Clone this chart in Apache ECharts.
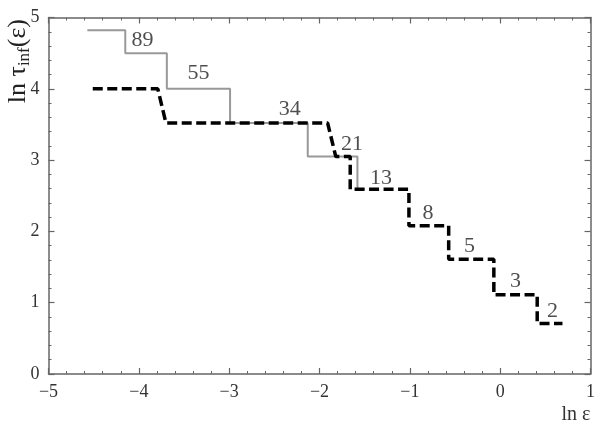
<!DOCTYPE html>
<html>
<head>
<meta charset="utf-8">
<script src="https://cdn.jsdelivr.net/npm/echarts@6/dist/echarts.min.js"></script>
<style>
html,body{margin:0;padding:0;background:#fff;}
#c{width:598px;height:425px;}
</style>
</head>
<body>
<div id="c"></div>
<script>
// Gray solid step line: breakpoints (x) and levels (y)
const grayStart = -4.57;
const grayBreaks = [-4.15, -3.69, -2.99, -2.13, -1.58];
const grayLevels = [4.82, 4.50, 4.00, 3.52, 3.05, 2.59];
const grayEnd = -1.50;

// Black dashed line: vertices (x, y)
const dashX = [-4.51, -3.79, -3.70, -1.91, -1.82, -1.66, -1.66, -1.01, -1.01, -0.57, -0.57, -0.07, -0.07, 0.41, 0.41, 0.69];
const dashY = [4.00, 4.00, 3.52, 3.52, 3.05, 3.05, 2.59, 2.59, 2.08, 2.08, 1.61, 1.61, 1.11, 1.11, 0.71, 0.71];

// Step labels
const labelText = ['89', '55', '34', '21', '13', '8', '5', '3', '2'];
const labelX = [-3.96, -3.34, -2.33, -1.64, -1.32, -0.80, -0.34, 0.17, 0.58];
const labelY = [4.68, 4.22, 3.71, 3.22, 2.75, 2.25, 1.79, 1.30, 0.88];

// Axis ticks
const xMin = -5, xMax = 1, yMin = 0, yMax = 5;

const grayData = [[grayStart, grayLevels[0]]];
grayBreaks.forEach((b, i) => {
  grayData.push([b, grayLevels[i]]);
  grayData.push([b, grayLevels[i + 1]]);
});
grayData.push([grayEnd, grayLevels[grayLevels.length - 1]]);

const dashData = dashX.map((x, i) => [x, dashY[i]]);
const labelData = labelX.map((x, i) => ({value: [x, labelY[i]], name: labelText[i]}));

const FONT = '"Times New Roman", "Liberation Serif", serif';
const axisColor = '#666';
const txt = '#333';

const baseTick = {show: true, inside: true, length: 6, lineStyle: {color: axisColor, width: 1.2}};
const baseMinor = {show: true, splitNumber: 5, length: 3, lineStyle: {color: axisColor, width: 1}};

const chart = echarts.init(document.getElementById('c'), null, {renderer: 'canvas'});
chart.setOption({
  animation: false,
  backgroundColor: '#fff',
  grid: {left: 48.5, right: 6, top: 17.5, bottom: 48.5, containLabel: false},
  xAxis: [{
    type: 'value', min: xMin, max: xMax, interval: 1, position: 'bottom',
    axisLine: {show: true, onZero: false, lineStyle: {color: axisColor, width: 1.5}},
    axisTick: baseTick, minorTick: baseMinor, splitLine: {show: false},
    axisLabel: {color: txt, fontFamily: FONT, fontSize: 18, margin: 9,
      formatter: v => String(v).replace('-', '\u2212')},
    name: 'ln \u03b5', nameLocation: 'end', nameGap: 0,
    nameTextStyle: {color: txt, fontFamily: FONT, fontSize: 20, align: 'right', verticalAlign: 'top', padding: [31, 0, 0, 0]}
  }, {
    type: 'value', min: xMin, max: xMax, interval: 1, position: 'top',
    axisLine: {show: true, onZero: false, lineStyle: {color: axisColor, width: 1.5}},
    axisTick: baseTick, minorTick: baseMinor, splitLine: {show: false},
    axisLabel: {show: false}
  }],
  yAxis: [{
    type: 'value', min: yMin, max: yMax, interval: 1, position: 'left',
    axisLine: {show: true, onZero: false, lineStyle: {color: axisColor, width: 1.5}},
    axisTick: baseTick, minorTick: baseMinor, splitLine: {show: false},
    axisLabel: {color: txt, fontFamily: FONT, fontSize: 18, margin: 9}
  }, {
    type: 'value', min: yMin, max: yMax, interval: 1, position: 'right',
    axisLine: {show: true, onZero: false, lineStyle: {color: axisColor, width: 1.5}},
    axisTick: baseTick, minorTick: baseMinor, splitLine: {show: false},
    axisLabel: {show: false}
  }],
  graphic: [{
    type: 'text', left: 4, top: 19, rotation: Math.PI / 2,
    style: {
      text: '{a|ln \u03c4}{s|inf}{a|(\u03b5)}',
      rich: {
        a: {fontFamily: FONT, fontSize: 26, fill: '#222', lineHeight: 30},
        s: {fontFamily: FONT, fontSize: 17, fill: '#222', lineHeight: 30, padding: [12, 0, 0, 0]}
      }
    }
  }],
  series: [{
    type: 'line', data: grayData, showSymbol: false, symbol: 'none',
    lineStyle: {color: '#999', width: 2}, z: 2
  }, {
    type: 'line', data: dashData, showSymbol: false, symbol: 'none',
    lineStyle: {color: '#000', width: 3.5, type: [10, 4.5]}, z: 3
  }, {
    type: 'scatter', data: labelData, symbolSize: 0, z: 4,
    label: {show: true, position: 'inside', formatter: p => p.name,
      fontFamily: FONT, fontSize: 22, color: '#222'}
  }]
});
</script>
</body>
</html>
